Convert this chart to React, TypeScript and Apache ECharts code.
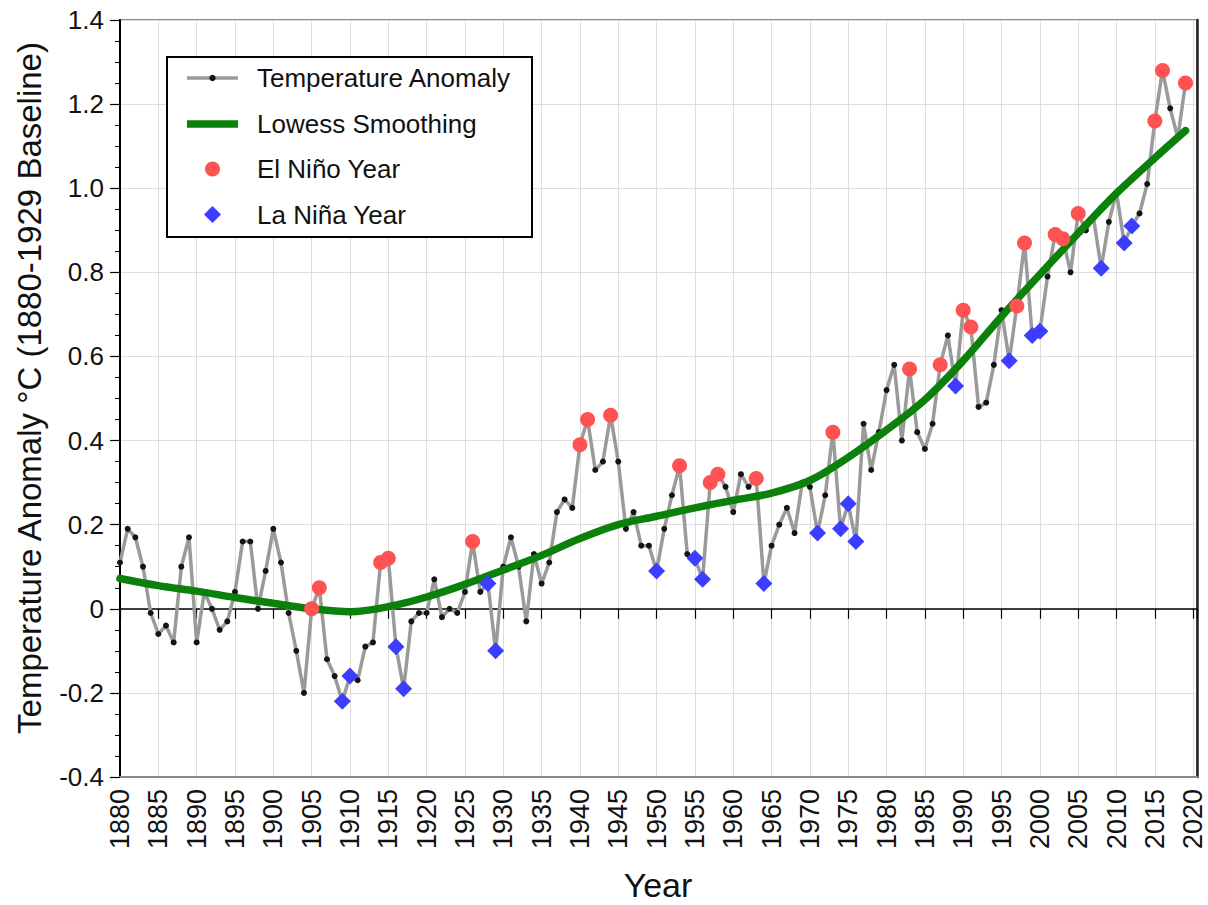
import React, { useEffect, useRef } from "react";
import * as echarts from "echarts";

// ---- Data ----
const startYear = 1880;
const anomalies: number[] = [
  // 1880-1889
  0.11, 0.19, 0.17, 0.10, -0.01, -0.06, -0.04, -0.08, 0.10, 0.17,
  // 1890-1899
  -0.08, 0.04, 0.00, -0.05, -0.03, 0.04, 0.16, 0.16, 0.00, 0.09,
  // 1900-1909
  0.19, 0.11, -0.01, -0.10, -0.20, 0.00, 0.05, -0.12, -0.16, -0.22,
  // 1910-1919
  -0.16, -0.17, -0.09, -0.08, 0.11, 0.12, -0.09, -0.19, -0.03, -0.01,
  // 1920-1929
  -0.01, 0.07, -0.02, 0.00, -0.01, 0.04, 0.16, 0.04, 0.06, -0.10,
  // 1930-1939
  0.10, 0.17, 0.10, -0.03, 0.13, 0.06, 0.11, 0.23, 0.26, 0.24,
  // 1940-1949
  0.39, 0.45, 0.33, 0.35, 0.46, 0.35, 0.19, 0.23, 0.15, 0.15,
  // 1950-1959
  0.09, 0.19, 0.27, 0.34, 0.13, 0.12, 0.07, 0.30, 0.32, 0.29,
  // 1960-1969
  0.23, 0.32, 0.29, 0.31, 0.06, 0.15, 0.20, 0.24, 0.18, 0.30,
  // 1970-1979
  0.29, 0.18, 0.27, 0.42, 0.19, 0.25, 0.16, 0.44, 0.33, 0.42,
  // 1980-1989
  0.52, 0.58, 0.40, 0.57, 0.42, 0.38, 0.44, 0.58, 0.65, 0.53,
  // 1990-1999
  0.71, 0.67, 0.48, 0.49, 0.58, 0.71, 0.59, 0.72, 0.87, 0.65,
  // 2000-2009
  0.66, 0.79, 0.89, 0.88, 0.80, 0.94, 0.90, 0.93, 0.81, 0.92,
  // 2010-2019
  0.99, 0.87, 0.91, 0.94, 1.01, 1.16, 1.28, 1.19, 1.12, 1.25,
];

const elNinoYears: number[] = [
  1905, 1906, 1914, 1915, 1926, 1940, 1941, 1944, 1953, 1957, 1958, 1963,
  1973, 1983, 1987, 1990, 1991, 1997, 1998, 2002, 2003, 2005, 2015, 2016, 2019,
];

const laNinaYears: number[] = [
  1909, 1910, 1916, 1917, 1928, 1929, 1950, 1955, 1956, 1964, 1971, 1974,
  1975, 1976, 1989, 1996, 1999, 2000, 2008, 2011, 2012,
];

const lowessYears: number[] = [
  1880, 1885, 1890, 1895, 1900, 1905, 1910, 1915, 1920, 1925, 1930, 1935,
  1940, 1945, 1950, 1955, 1960, 1965, 1970, 1975, 1980, 1985, 1990, 1995,
  2000, 2005, 2010, 2015, 2019,
];
const lowessValues: number[] = [
  0.072, 0.055, 0.042, 0.027, 0.013, 0.0, -0.007, 0.005, 0.028, 0.058, 0.092,
  0.127, 0.167, 0.2, 0.22, 0.24, 0.258, 0.275, 0.305, 0.36, 0.425, 0.497,
  0.59, 0.695, 0.795, 0.893, 0.988, 1.072, 1.137,
];

const legendLabels: string[] = [
  "Temperature Anomaly",
  "Lowess Smoothing",
  "El Niño Year",
  "La Niña Year",
];

const xTitle = "Year";
const yTitle = "Temperature Anomaly °C (1880-1929 Baseline)";

// ---- Styles ----
const FONT = '"Liberation Sans", Arial, Helvetica, sans-serif';
const GRAY_LINE = "#9a9a9a";
const DOT = "#141414";
const GREEN = "#0b800b";
const RED = "#ff5252";
const BLUE = "#3d3dff";
const TEXT = "#111";

export default function App() {
  const ref = useRef<HTMLDivElement>(null);

  useEffect(() => {
    document.body.style.margin = "0";
    if (!ref.current) return;
    const chart = echarts.init(ref.current, undefined, { renderer: "svg" });

    const years = anomalies.map((_, i) => startYear + i);
    const anomalyData = years.map((y, i) => [y, anomalies[i]]);
    const valueOf = (y: number) => anomalies[y - startYear];
    const elNinoData = elNinoYears.map((y) => [y, valueOf(y)]);
    const laNinaData = laNinaYears.map((y) => [y, valueOf(y)]);
    const lowessData = lowessYears.map((y, i) => [y, lowessValues[i]]);

    // legend layout
    const lgX = 167;
    const lgY = 57;
    const lgW = 365;
    const lgH = 180;
    const rowY = [78, 124, 169, 214.5];
    const iconX0 = 187;
    const iconX1 = 238;
    const iconC = (iconX0 + iconX1) / 2;
    const textX = 257;

    const graphics: any[] = [
      {
        type: "rect",
        shape: { x: lgX, y: lgY, width: lgW, height: lgH },
        style: { fill: "#fff", stroke: "#000", lineWidth: 2 },
        z: 100,
      },
      {
        type: "line",
        shape: { x1: iconX0, y1: rowY[0], x2: iconX1, y2: rowY[0] },
        style: { stroke: GRAY_LINE, lineWidth: 3.5 },
        z: 101,
      },
      {
        type: "circle",
        shape: { cx: iconC, cy: rowY[0], r: 3.2 },
        style: { fill: DOT },
        z: 102,
      },
      {
        type: "line",
        shape: { x1: iconX0, y1: rowY[1], x2: iconX1, y2: rowY[1] },
        style: { stroke: GREEN, lineWidth: 7.5 },
        z: 101,
      },
      {
        type: "circle",
        shape: { cx: iconC, cy: rowY[2], r: 7.5 },
        style: { fill: RED },
        z: 101,
      },
      {
        type: "polygon",
        shape: {
          points: [
            [iconC, rowY[3] - 8.5],
            [iconC + 8.5, rowY[3]],
            [iconC, rowY[3] + 8.5],
            [iconC - 8.5, rowY[3]],
          ],
        },
        style: { fill: BLUE },
        z: 101,
      },
      ...legendLabels.map((t, i) => ({
        type: "text",
        x: textX,
        y: rowY[i],
        style: {
          text: t,
          fontSize: 26,
          fontFamily: FONT,
          fill: TEXT,
          verticalAlign: "middle",
          align: "left",
        },
        z: 102,
      })),
      // axis titles
      {
        type: "text",
        x: 658,
        y: 885,
        style: {
          text: xTitle,
          fontSize: 34,
          fontFamily: FONT,
          fill: TEXT,
          align: "center",
          verticalAlign: "middle",
        },
        z: 50,
      },
      {
        type: "text",
        x: 29,
        y: 388,
        rotation: Math.PI / 2,
        style: {
          text: yTitle,
          fontSize: 33,
          fontFamily: FONT,
          fill: TEXT,
          align: "center",
          verticalAlign: "middle",
        },
        z: 50,
      },
    ];

    const option: any = {
      animation: false,
      backgroundColor: "#fff",
      textStyle: { fontFamily: FONT },
      grid: {
        left: 120,
        right: 11,
        top: 20,
        bottom: 128,
        containLabel: false,
        outerBoundsMode: "none",
        show: true,
        borderColor: "#8a8a8a",
        borderWidth: 2,
        backgroundColor: "transparent",
      },
      xAxis: [
        {
          type: "value",
          min: 1880,
          max: 2020.5,
          interval: 5,
          position: "bottom",
          axisLine: { show: true, onZero: false, lineStyle: { color: "#8a8a8a", width: 2 } },
          axisTick: { show: false },
          axisLabel: {
            rotate: 90,
            margin: 12,
            fontSize: 27,
            color: TEXT,
            fontFamily: FONT,
            formatter: (v: number) => (v % 5 === 0 ? String(v) : ""),
          },
          splitLine: { show: true, lineStyle: { color: "#dddddd", width: 1 } },
        },
        {
          type: "value",
          min: 1880,
          max: 2020.5,
          interval: 5,
          position: "bottom",
          axisLine: {
            show: true,
            onZero: true,
            onZeroAxisIndex: 0,
            lineStyle: { color: "#000", width: 1.5 },
          },
          axisTick: { show: true, length: 10, lineStyle: { color: "#000", width: 1.2 } },
          axisLabel: { show: false },
          splitLine: { show: false },
        },
      ],
      yAxis: [
        {
          type: "value",
          min: -0.4,
          max: 1.4,
          interval: 0.2,
          position: "left",
          axisLine: { show: true, onZero: false, lineStyle: { color: "#000", width: 2 } },
          axisTick: { show: true, length: 10, lineStyle: { color: "#000", width: 1.2 } },
          minorTick: { show: true, splitNumber: 4, length: 5, lineStyle: { color: "#000", width: 1 } },
          axisLabel: {
            margin: 16,
            fontSize: 26,
            color: TEXT,
            fontFamily: FONT,
            formatter: (v: number) => (Math.abs(v) < 1e-9 ? "0" : v.toFixed(1)),
          },
          splitLine: { show: true, lineStyle: { color: "#dddddd", width: 1 } },
        },
        {
          type: "value",
          min: -0.4,
          max: 1.4,
          interval: 0.2,
          position: "right",
          axisLine: { show: true, onZero: false, lineStyle: { color: "#222", width: 2.5 } },
          axisTick: { show: false },
          axisLabel: { show: false },
          splitLine: { show: false },
        },
      ],
      series: [
        {
          name: legendLabels[0],
          type: "line",
          data: anomalyData,
          xAxisIndex: 0,
          yAxisIndex: 0,
          lineStyle: { color: GRAY_LINE, width: 3.5 },
          itemStyle: { color: DOT },
          symbol: "circle",
          symbolSize: 6,
          showAllSymbol: true,
          z: 3,
        },
        {
          name: legendLabels[1],
          type: "line",
          data: lowessData,
          xAxisIndex: 0,
          yAxisIndex: 0,
          smooth: 0.35,
          showSymbol: false,
          symbol: "none",
          lineStyle: { color: GREEN, width: 7.5, cap: "round" },
          z: 4,
        },
        {
          name: legendLabels[2],
          type: "scatter",
          data: elNinoData,
          xAxisIndex: 0,
          yAxisIndex: 0,
          symbol: "circle",
          symbolSize: 15,
          itemStyle: { color: RED, opacity: 1 },
          z: 5,
        },
        {
          name: legendLabels[3],
          type: "scatter",
          data: laNinaData,
          xAxisIndex: 0,
          yAxisIndex: 0,
          symbol: "diamond",
          symbolSize: 17,
          itemStyle: { color: BLUE, opacity: 1 },
          z: 5,
        },
      ],
      graphic: graphics,
    };

    chart.setOption(option);
    return () => {
      chart.dispose();
    };
  }, []);

  return (
    <div
      ref={ref}
      style={{ position: "fixed", left: 0, top: 0, width: 1208, height: 905 }}
    />
  );
}
